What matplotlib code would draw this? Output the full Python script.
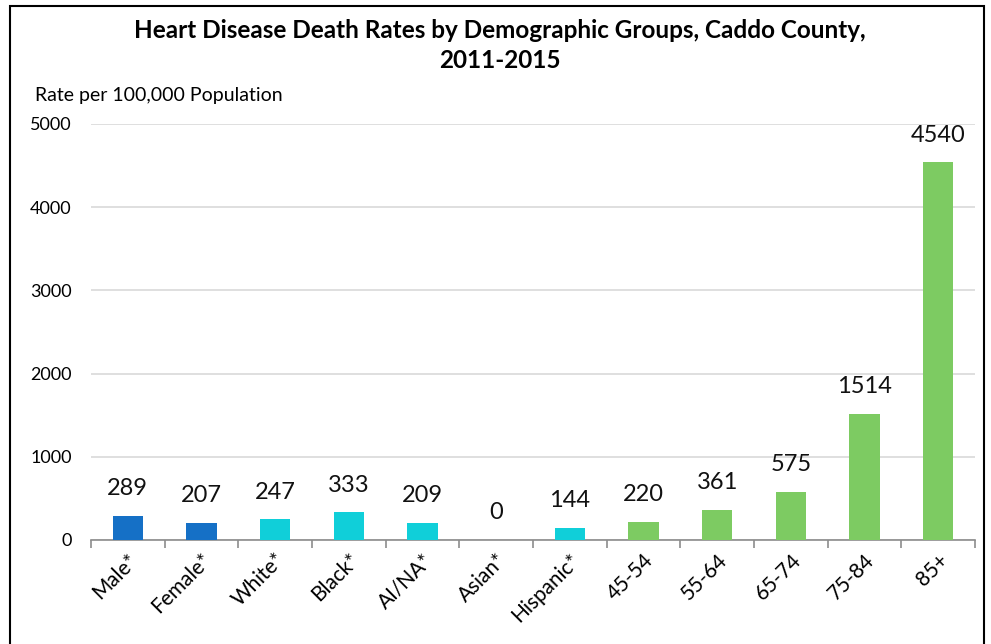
import matplotlib
matplotlib.use('Agg')
import matplotlib.pyplot as plt
from matplotlib.patches import Rectangle

# Data
categories = ['Male*', 'Female*', 'White*', 'Black*', 'AI/NA*', 'Asian*', 'Hispanic*',
              '45-54', '55-64', '65-74', '75-84', '85+']
rates = [289, 207, 247, 333, 209, 0, 144, 220, 361, 575, 1514, 4540]
groups = ['sex', 'sex', 'race', 'race', 'race', 'race', 'race',
          'age', 'age', 'age', 'age', 'age']
y_ticks = [0, 1000, 2000, 3000, 4000, 5000]

group_colors = {'sex': '#1570C6', 'race': '#10CFD9', 'age': '#7DCB62'}

plt.rcParams['font.family'] = ['Lato', 'DejaVu Sans']

W, H = 991, 644
fig = plt.figure(figsize=(W / 100, H / 100), dpi=100)
ax = fig.add_axes([91 / W, 1 - 540 / H, (975 - 91) / W, (540 - 124) / H])

x = list(range(len(categories)))
colors = [group_colors[g] for g in groups]
ax.bar(x, rates, width=0.41, color=colors, zorder=3)

# value labels above bars
for xi, v in zip(x, rates):
    ax.annotate(f'{v}', (xi, v), xytext=(0, 12), textcoords='offset points',
                ha='center', va='bottom', fontsize=17, color='#111111')

ax.set_xlim(-0.5, len(categories) - 0.5)
ax.set_ylim(0, 5000)
ax.set_yticks(y_ticks)
ax.set_yticklabels([str(t) for t in y_ticks], fontsize=13)
ax.tick_params(axis='y', length=0, pad=14)
ax.grid(axis='y', color='#D9D9D9', linewidth=1.2, zorder=0)

# category ticks at boundaries, labels centred
ax.set_xticks([i - 0.5 for i in range(len(categories) + 1)], minor=False)
ax.set_xticklabels([])
ax.tick_params(axis='x', which='major', length=6, color='#8C8C8C', width=1.2, direction='out')
ax.set_xticks(x, minor=True)
ax.set_xticklabels(categories, minor=True, rotation=45, ha='right',
                   rotation_mode='anchor', fontsize=15)
ax.tick_params(axis='x', which='minor', length=0, pad=7)

for side in ['top', 'right', 'left']:
    ax.spines[side].set_visible(False)
ax.spines['bottom'].set_color('#8C8C8C')
ax.spines['bottom'].set_linewidth(1.2)

fig.text(500 / W, 1 - 30 / H, 'Heart Disease Death Rates by Demographic Groups, Caddo County,',
         ha='center', va='center', fontsize=17.5, fontweight='bold')
fig.text(500 / W, 1 - 60 / H, '2011-2015',
         ha='center', va='center', fontsize=17.5, fontweight='bold')
fig.text(35 / W, 1 - 96 / H, 'Rate per 100,000 Population',
         ha='left', va='center', fontsize=14)

# outer border
fig.patches.append(Rectangle((10 / W, -0.05), (984 - 10) / W, 1.05 - 6 / H,
                             transform=fig.transFigure, fill=False,
                             edgecolor='black', linewidth=1.5))

fig.savefig('out.png', dpi=100)
